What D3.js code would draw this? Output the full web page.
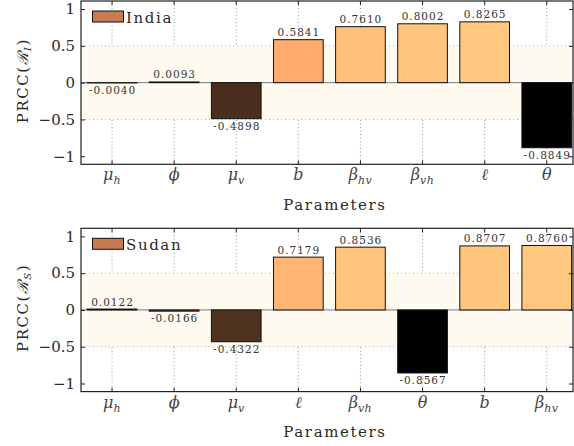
<!DOCTYPE html>
<html>
  <head>
    <meta charset="utf-8">
    <style>
      body { margin: 0; background: #fff; }
      svg { display: block; }
      text { font-family: "DejaVu Serif", serif; fill: #2a2a2a; }
      .domain { display: none; }
      .tick line { stroke: #222; stroke-width: 1; }
      .grid { stroke: #999; stroke-width: 1; stroke-dasharray: 1,2.5; }
      .half { stroke: #f08c8c; stroke-width: 1; stroke-dasharray: 1,3; }
      .bar { stroke: #111; stroke-width: 1; }
      .val { font-size: 10.5px; letter-spacing: 1px; fill: #333; }
    </style>
  </head>
  <body>
    <svg></svg>
    <script src="https://cdnjs.cloudflare.com/ajax/libs/d3/7.8.5/d3.min.js"></script>
    <script>
      // parameters and PRCC values, one pair per country
      var indiaParams = ["mu_h", "phi", "mu_v", "b", "beta_hv", "beta_vh", "ell", "theta"],
          indiaPRCC = [-0.0040, 0.0093, -0.4898, 0.5841, 0.7610, 0.8002, 0.8265, -0.8849],
          sudanParams = ["mu_h", "phi", "mu_v", "ell", "beta_vh", "theta", "b", "beta_hv"],
          sudanPRCC = [0.0122, -0.0166, -0.4322, 0.7179, 0.8536, -0.8567, 0.8707, 0.8760];

      // tick symbol: [base, subscript]
      var symbols = {
        mu_h: ["μ", "h"], phi: ["ϕ", ""], mu_v: ["μ", "v"], b: ["b", ""],
        beta_hv: ["β", "hv"], beta_vh: ["β", "vh"], ell: ["ℓ", ""], theta: ["θ", ""]
      };
      var yTicks = [-1, -0.5, 0, 0.5, 1];

      var panels = [
        {name: "India", sub: "I", params: indiaParams, values: indiaPRCC, top: 1},
        {name: "Sudan", sub: "S", params: sudanParams, values: sudanPRCC, top: 228.3}
      ];

      var W = 574, H = 446,
          left = 81, right = 573, step = 62.1, ph = 163.3;

      var svg = d3.select("svg").attr("width", W).attr("height", H);

      // matplotlib 'copper'
      function copper(t) {
        return d3.rgb(255 * Math.min(1, 1.25 * t), 255 * 0.7812 * t, 255 * 0.4975 * t).toString();
      }

      panels.forEach(function(p) {
        var g = svg.append("g").attr("transform", "translate(0," + p.top + ")");

        var x = d3.scaleBand().domain(d3.range(p.params.length))
                  .range([left, left + 8 * step]).paddingInner(0.2).paddingOuter(0.1);
        var y = d3.scaleLinear().domain([-1.11, 1.11]).range([ph, 0]);
        var cnorm = d3.scaleLinear().domain(d3.extent(p.values)).range([0, 1]);
        var cx = function(i) { return x(i) + x.bandwidth() / 2; };

        // vertical grid
        g.selectAll(".grid").data(d3.range(p.params.length)).enter().append("line")
          .attr("class", "grid")
          .attr("x1", cx).attr("x2", cx).attr("y1", 0).attr("y2", ph);

        // band between -0.5 and 0.5
        g.append("rect").attr("x", left).attr("width", right - left)
          .attr("y", y(0.5)).attr("height", y(-0.5) - y(0.5)).style("fill", "#fffaf0");
        g.selectAll(".half").data([0.5, -0.5]).enter().append("line")
          .attr("class", "half")
          .attr("x1", left).attr("x2", right)
          .attr("y1", function(d) { return y(d); }).attr("y2", function(d) { return y(d); });
        g.append("line").attr("x1", left).attr("x2", right)
          .attr("y1", y(0)).attr("y2", y(0)).style("stroke", "#777").style("stroke-width", 1);

        // bars
        g.selectAll(".bar").data(p.values).enter().append("rect")
          .attr("class", "bar")
          .attr("x", function(d, i) { return x(i); })
          .attr("width", x.bandwidth())
          .attr("y", function(d) { return y(Math.max(0, d)); })
          .attr("height", function(d) { return Math.abs(y(d) - y(0)); })
          .style("fill", function(d) { return copper(cnorm(d)); });

        // value labels
        g.selectAll(".val").data(p.values).enter().append("text")
          .attr("class", "val")
          .attr("text-anchor", "middle")
          .attr("x", function(d, i) { return cx(i) + 0.5; })
          .attr("y", function(d) { return d >= 0 ? y(d) - 3.5 : y(d) + 11; })
          .text(function(d) { return d.toFixed(4); });

        // axes with inward ticks
        var yl = g.append("g").attr("transform", "translate(" + left + ",0)")
          .call(d3.axisLeft(y).tickValues(yTicks).tickSize(-4).tickPadding(6)
            .tickFormat(function(d) { return (d < 0 ? "−" : "") + Math.abs(d); }));
        yl.selectAll("text").style("font-size", "15px");
        g.append("g").attr("transform", "translate(" + right + ",0)")
          .call(d3.axisRight(y).tickValues(yTicks).tickSize(-4).tickFormat(""));
        g.selectAll(".topt").data(d3.range(p.params.length)).enter().append("line")
          .attr("x1", cx).attr("x2", cx).attr("y1", 0).attr("y2", 4).style("stroke", "#222");
        g.selectAll(".bott").data(d3.range(p.params.length)).enter().append("line")
          .attr("x1", cx).attr("x2", cx).attr("y1", ph).attr("y2", ph - 4).style("stroke", "#222");

        // frame
        g.append("rect").attr("x", left).attr("y", 0).attr("width", right - left).attr("height", ph)
          .style("fill", "none").style("stroke", "#222").style("stroke-width", 1.2);

        // x tick labels
        var lab = g.selectAll(".xl").data(p.params).enter().append("text")
          .attr("text-anchor", "middle")
          .attr("x", function(d, i) { return cx(i); })
          .attr("y", ph + 16)
          .style("font-size", "16px").style("font-style", "italic").style("fill", "#444");
        lab.append("tspan").text(function(d) { return symbols[d][0]; });
        lab.append("tspan").attr("dy", 4).style("font-size", "11px").style("letter-spacing", "0.5px")
          .text(function(d) { return symbols[d][1]; });

        g.append("text").attr("text-anchor", "middle")
          .attr("x", 335).attr("y", ph + 45.5)
          .style("font-size", "15px").style("letter-spacing", "1.6px")
          .text("Parameters");

        // y label
        var ylab = g.append("text").attr("text-anchor", "middle")
          .attr("transform", "translate(28," + (y(0) - 2) + ")rotate(-90)")
          .style("font-size", "15px").style("letter-spacing", "1.5px");
        ylab.append("tspan").text("PRCC(");
        ylab.append("tspan").style("font-style", "italic").text("ℛ");
        ylab.append("tspan").attr("dy", 3).style("font-size", "10px").style("font-style", "italic").text(p.sub);
        ylab.append("tspan").attr("dy", -3).text(")");

        // legend
        g.append("rect").attr("x", 92.5).attr("y", 10).attr("width", 31).attr("height", 11)
          .style("fill", "#c87a50").style("stroke", "#111").style("stroke-width", 1);
        g.append("text").attr("x", 126).attr("y", 21.5)
          .style("font-size", "15px").style("letter-spacing", "1.6px").text(p.name);
      });
    </script>
  </body>
</html>
